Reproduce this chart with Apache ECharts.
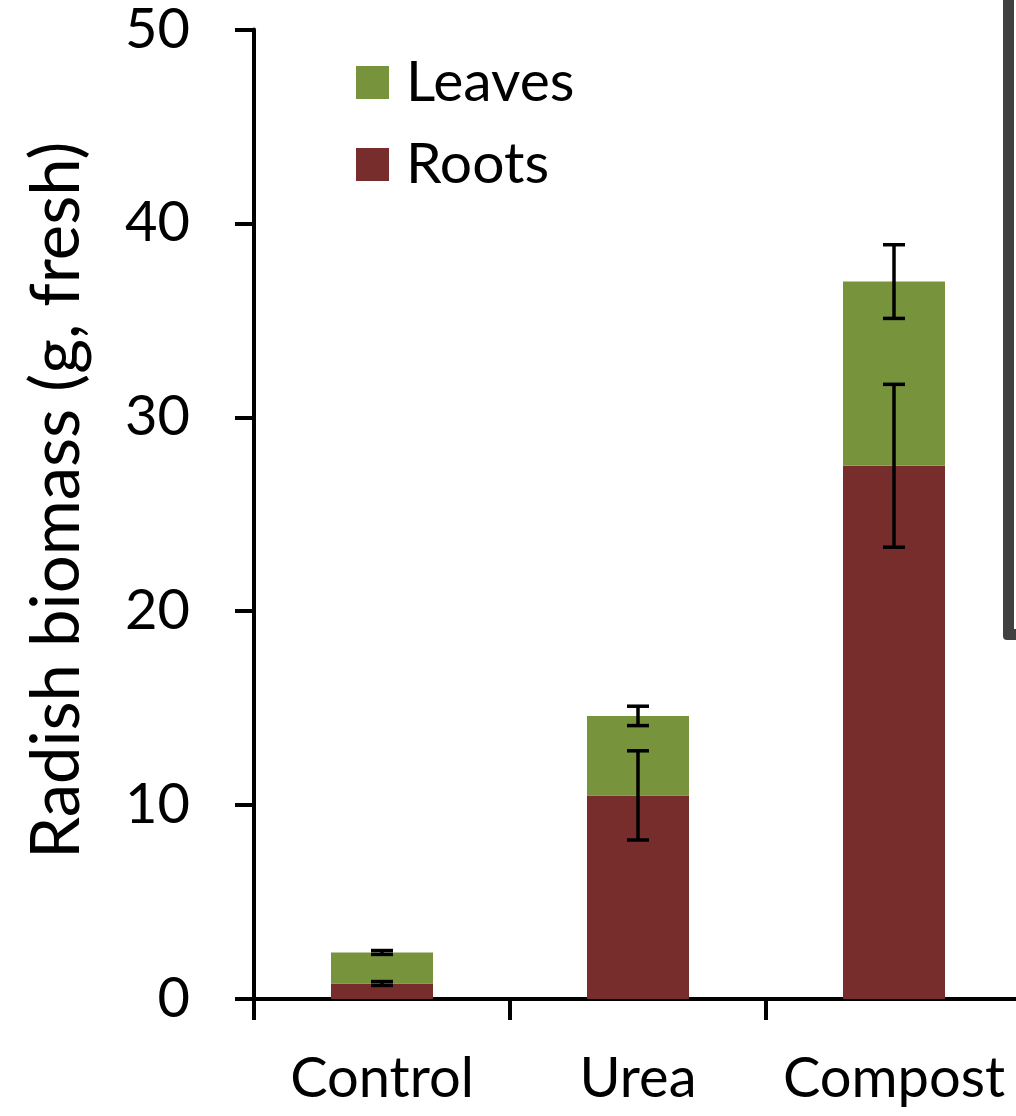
<!DOCTYPE html>
<html>
<head>
<meta charset="utf-8">
<script src="https://cdn.jsdelivr.net/npm/echarts@6/dist/echarts.min.js"></script>
<style>
  html, body { margin: 0; padding: 0; background: #ffffff; }
  #chart { width: 1016px; height: 1116px; }
</style>
</head>
<body>
<div id="chart"></div>
<script>
// Radish fresh biomass by fertiliser treatment, roots + leaves stacked
const categories = ['Control', 'Urea', 'Compost'];
const roots = [0.8, 10.5, 27.5];
const leaves = [1.6, 4.1, 9.5];
const rootsErr = [0.1, 2.3, 4.2];
const leavesErr = [0.1, 0.5, 1.9];
const yTicks = { min: 0, max: 50, interval: 10 };

const FONT = 'Lato';
const GREEN = '#77933C';
const RED = '#782D2D';

// error bar centres sit on top of each stacked segment
const rootsErrData = categories.map((c, i) => [i, roots[i], rootsErr[i]]);
const leavesErrData = categories.map((c, i) => [i, roots[i] + leaves[i], leavesErr[i]]);

function renderErrorBar(params, api) {
  const x = api.value(0);
  const c = api.value(1);
  const e = api.value(2);
  const hi = api.coord([x, c + e]);
  const lo = api.coord([x, c - e]);
  const half = 11;
  const style = { stroke: '#000000', lineWidth: 3.5, fill: null };
  return {
    type: 'group',
    children: [
      { type: 'line', shape: { x1: hi[0], y1: hi[1], x2: lo[0], y2: lo[1] }, style: style },
      { type: 'line', shape: { x1: hi[0] - half, y1: hi[1], x2: hi[0] + half, y2: hi[1] }, style: style },
      { type: 'line', shape: { x1: lo[0] - half, y1: lo[1], x2: lo[0] + half, y2: lo[1] }, style: style }
    ]
  };
}

const chart = echarts.init(document.getElementById('chart'), null, { renderer: 'canvas' });

chart.setOption({
  backgroundColor: '#ffffff',
  animation: false,
  textStyle: { fontFamily: FONT },
  grid: {
    left: 254, top: 29.5, width: 768, height: 969.5,
    outerBoundsMode: 'none'
  },
  legend: {
    data: ['Leaves', 'Roots'],
    orient: 'vertical',
    left: 351, top: 49,
    itemWidth: 33, itemHeight: 33, itemGap: 25,
    icon: 'rect',
    textStyle: { fontFamily: FONT, fontSize: 57, color: '#000', padding: [16, 0, 0, 12] }
  },
  xAxis: {
    type: 'category',
    data: categories,
    axisLine: { lineStyle: { color: '#000', width: 4 } },
    axisTick: { show: true, interval: 0, length: 21, lineStyle: { color: '#000', width: 4 } },
    axisLabel: { interval: 0, color: '#000', fontSize: 56, fontFamily: FONT, margin: 52 }
  },
  yAxis: {
    type: 'value',
    min: yTicks.min, max: yTicks.max, interval: yTicks.interval,
    name: 'Radish biomass (g, fresh)',
    nameLocation: 'middle',
    nameGap: 163,
    nameTextStyle: { color: '#000', fontSize: 67, fontFamily: FONT, padding: [0, 0, 0, 28] },
    splitLine: { show: false },
    axisLine: { show: true, lineStyle: { color: '#000', width: 4 } },
    axisTick: { show: true, length: 19, lineStyle: { color: '#000', width: 4 } },
    axisLabel: { color: '#000', fontSize: 56, fontFamily: FONT, margin: 64, padding: [12, 0, 0, 0] }
  },
  graphic: [
    // framed panel sitting at the right edge
    { type: 'rect', z: 100, shape: { x: 1003, y: -10, width: 60, height: 650, r: 4 }, style: { fill: '#404040' } },
    { type: 'rect', z: 101, shape: { x: 1014, y: -10, width: 60, height: 639 }, style: { fill: '#ffffff' } }
  ],
  series: [
    {
      name: 'Roots', type: 'bar', stack: 'biomass', data: roots, barWidth: 102,
      itemStyle: { color: RED }
    },
    {
      name: 'Leaves', type: 'bar', stack: 'biomass', data: leaves, barWidth: 102,
      itemStyle: { color: GREEN }
    },
    {
      name: 'Roots error', type: 'custom', data: rootsErrData, z: 5,
      renderItem: renderErrorBar, encode: { x: 0, y: 1 }
    },
    {
      name: 'Leaves error', type: 'custom', data: leavesErrData, z: 5,
      renderItem: renderErrorBar, encode: { x: 0, y: 1 }
    }
  ]
});
</script>
</body>
</html>
